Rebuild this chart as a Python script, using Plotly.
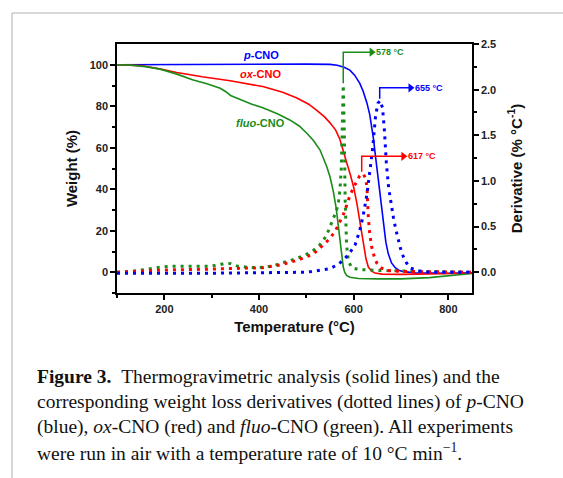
import plotly.graph_objects as go

# ---------------- data ----------------
# p-CNO (blue) weight (%)
T_p_tg = [100, 300, 500, 550, 565, 580, 592, 602, 613, 620, 628, 634, 638, 642, 645, 650, 656, 660, 663, 668, 673, 680, 687, 695, 705, 730, 800, 850]
W_p = [100, 100.3, 100.3, 100.2, 99.8, 98.8, 97.4, 95, 91, 87.2, 81.6, 76, 70.5, 64, 58, 49, 38, 30, 23, 14.5, 9, 4.5, 2.4, 1, 0.3, -0.3, -0.5, -0.3]

# ox-CNO (red) weight (%)
T_ox_tg = [100, 130, 150, 190, 226, 280, 339, 408, 450, 480, 505, 522, 538, 550, 562, 571, 578, 585, 593, 600, 607, 613, 618, 621, 626, 631, 638, 645, 660, 700, 760, 850]
W_ox = [100, 99.9, 99.6, 98, 96.3, 94.2, 92.3, 89.5, 86.8, 84, 81, 78, 75, 72, 68.5, 64, 59, 53, 47, 41, 33, 25, 17, 12.5, 6.5, 2.5, 0.5, -0.4, -0.9, -1, -0.8, -0.5]

# fluo-CNO (green) weight (%)
T_fl_tg = [100, 130, 160, 191, 225, 261, 290, 318, 330, 340, 350, 365, 385, 408, 440, 465, 485, 501, 515, 529, 536, 543, 550, 557, 563, 568, 572, 575, 578, 581, 585, 592, 610, 650, 700, 760, 800, 850]
W_fl = [100, 99.8, 99.1, 97.9, 95.6, 92.7, 90.8, 88.7, 87, 85.2, 84.2, 82.8, 81, 79.3, 76.3, 73.4, 70.5, 67, 63.5, 58.9, 55, 51, 46, 39, 31, 22, 14, 7.5, 2.5, 0, -1.5, -2.4, -3, -3.2, -3.2, -2.6, -1.8, -0.6]

# derivatives (% / degC)
T_p_dtg = [100, 300, 500, 530, 550, 565, 578, 590, 603, 613, 620, 628, 634, 640, 646, 651, 656, 661, 665, 669, 674, 679, 684, 689, 694, 700, 705, 712, 719, 735, 760, 850]
D_p = [-0.01, -0.01, 0.0, 0.02, 0.04, 0.08, 0.13, 0.2, 0.3, 0.46, 0.62, 0.85, 1.1, 1.35, 1.7, 1.85, 1.88, 1.8, 1.55, 1.2, 0.92, 0.75, 0.6, 0.47, 0.35, 0.24, 0.17, 0.1, 0.05, 0.015, 0.0, 0.0]

T_ox_dtg = [100, 150, 200, 260, 339, 409, 444, 480, 515, 536, 550, 562, 571, 578, 585, 592, 600, 606, 612, 617, 621, 625, 628, 631, 634, 638, 643, 649, 657, 670, 700, 850]
D_ox = [0, 0.015, 0.025, 0.03, 0.04, 0.05, 0.08, 0.13, 0.2, 0.3, 0.37, 0.46, 0.55, 0.63, 0.73, 0.84, 0.93, 1.0, 1.05, 1.08, 1.07, 1.03, 0.94, 0.6, 0.42, 0.28, 0.18, 0.1, 0.05, 0.02, 0.01, 0.0]

T_fl_dtg = [100, 130, 160, 190, 212, 240, 261, 296, 315, 330, 340, 353, 375, 395, 409, 430, 444, 462, 480, 498, 515, 527, 536, 544, 550, 557, 564, 568, 571, 574, 576, 578, 580, 582, 585, 589, 596, 610, 650, 700, 850]
D_fl = [0, 0.01, 0.03, 0.055, 0.065, 0.065, 0.06, 0.066, 0.08, 0.1, 0.095, 0.07, 0.055, 0.05, 0.055, 0.07, 0.095, 0.12, 0.15, 0.19, 0.24, 0.29, 0.35, 0.42, 0.5, 0.58, 0.68, 0.78, 0.9, 1.15, 1.5, 2.05, 1.6, 0.8, 0.3, 0.12, 0.05, 0.03, 0.02, 0.015, 0.0]

# peak markers: peak temperature, arrow start (derivative), arrow top, arrow end temperature, label
peak_T = [578, 655, 617]
peak_base = [2.07, 1.9, 1.1]
peak_top = [2.41, 2.02, 1.27]
peak_end = [641, 723, 708]
peak_labels = ["578 °C", "655 °C", "617 °C"]

series_names = ["<i>p</i>-CNO", "<i>ox</i>-CNO", "<i>fluo</i>-CNO"]
series_label_y = [104.5, 95.5, 71.8]

BLUE = "#0000ff"
RED = "#ff0000"
GREEN = "#1a8c1a"
colors_peaks = [GREEN, BLUE, RED]
colors_series = [BLUE, RED, GREEN]

caption_lines = [
    "<b>Figure\u00a03.</b>\u00a0\u00a0Thermogravimetric analysis (solid lines) and the",
    "corresponding weight loss derivatives (dotted lines) of <i>p</i>-CNO",
    "(blue), <i>ox</i>-CNO (red) and <i>fluo</i>-CNO (green). All experiments",
    "were run in air with a temperature rate of 10 °C min<sup>\u22121</sup>.",
]

# ---------------- figure ----------------
W, H = 563, 478
ML, MR, MT, MB = 117, 91, 44, 185
PW, PH = W - ML - MR, H - MT - MB


def px2paper(px, py):
    return (px - ML) / PW, (H - MB - py) / PH


fig = go.Figure()

dot = "3px,5px"
for T, D, c in [(T_fl_dtg, D_fl, GREEN), (T_ox_dtg, D_ox, RED), (T_p_dtg, D_p, BLUE)]:
    fig.add_trace(go.Scatter(x=T, y=D, yaxis="y2", mode="lines",
                             line=dict(color=c, width=3, dash=dot), showlegend=False))

for T, Wt, c in [(T_p_tg, W_p, BLUE), (T_ox_tg, W_ox, RED), (T_fl_tg, W_fl, GREEN)]:
    fig.add_trace(go.Scatter(x=T, y=Wt, mode="lines",
                             line=dict(color=c, width=1.6), showlegend=False))

# peak arrows (L-shaped line with arrow head)
for pt, b, tp, e, lab, c in zip(peak_T, peak_base, peak_top, peak_end, peak_labels, colors_peaks):
    fig.add_trace(go.Scatter(x=[pt, pt, e - 4], y=[b, tp, tp], yaxis="y2", mode="lines",
                             line=dict(color=c, width=1.5), showlegend=False))
    fig.add_trace(go.Scatter(x=[e - 3], y=[tp], yaxis="y2", mode="markers",
                             marker=dict(symbol="triangle-right", size=8, color=c),
                             showlegend=False))
    fig.add_annotation(x=e + 3, y=tp, xref="x", yref="y2", text=lab, showarrow=False,
                       xanchor="left", yanchor="middle",
                       font=dict(family="Liberation Sans", size=9, color=c, weight="bold"))

for name, yv, c in zip(series_names, series_label_y, colors_series):
    fig.add_annotation(x=404, y=yv, xref="x", yref="y", text=name, showarrow=False,
                       xanchor="center", yanchor="middle",
                       font=dict(family="Liberation Sans", size=11, color=c, weight="bold"))

# caption
cap_y = [377, 402, 427, 452]
for line, py in zip(caption_lines, cap_y):
    xp, yp = px2paper(35, py)
    fig.add_annotation(x=xp, y=yp, xref="paper", yref="paper", text=line, showarrow=False,
                       xanchor="left", yanchor="middle",
                       font=dict(family="Liberation Serif", size=19.5, color="#111"))

# frame lines (left and top, grey)
x0, y0 = px2paper(12, 478)
x1, y1 = px2paper(12, 13)
x2, _ = px2paper(563, 13)
fig.add_shape(type="line", xref="paper", yref="paper", x0=x0, y0=y0, x1=x1, y1=y1,
              line=dict(color="#b0b0b0", width=1))
fig.add_shape(type="line", xref="paper", yref="paper", x0=x1, y0=y1, x1=x2, y1=y1,
              line=dict(color="#b0b0b0", width=1))

tickfont = dict(family="Liberation Sans", size=11, color="#222", weight="bold")
titlefont = dict(family="Liberation Sans", size=15, color="#111", weight="bold")

fig.update_layout(
    width=W, height=H,
    margin=dict(l=ML, r=MR, t=MT, b=MB),
    paper_bgcolor="white", plot_bgcolor="white",
    xaxis=dict(range=[100, 850], tickvals=[200, 400, 600, 800], showgrid=False, zeroline=False,
               showline=True, linecolor="black", linewidth=1.5, mirror=True,
               ticks="outside", ticklen=5, tickwidth=1.5, tickcolor="black",
               minor=dict(tickvals=[100, 300, 500, 700], ticks="outside", ticklen=3, tickwidth=1.5, tickcolor="black"),
               tickfont=tickfont,
               title=dict(text="Temperature (°C)", font=titlefont, standoff=8)),
    yaxis=dict(range=[-10, 110], tickvals=[0, 20, 40, 60, 80, 100], showgrid=False, zeroline=False,
               showline=True, linecolor="black", linewidth=1.5,
               ticks="outside", ticklen=5, tickwidth=1.5, tickcolor="black",
               minor=dict(tickvals=[-10, 10, 30, 50, 70, 90], ticks="outside", ticklen=3, tickwidth=1.5, tickcolor="black"),
               tickfont=tickfont,
               title=dict(text="Weight (%)", font=titlefont, standoff=8)),
    yaxis2=dict(range=[-0.227, 2.5], overlaying="y", side="right",
                tickvals=[0, 0.5, 1.0, 1.5, 2.0, 2.5], ticktext=["0.0", "0.5", "1.0", "1.5", "2.0", "2.5"],
                showgrid=False, zeroline=False,
                showline=True, linecolor="black", linewidth=1.5,
                ticks="outside", ticklen=5, tickwidth=1.5, tickcolor="black",
                minor=dict(tickvals=[0.25, 0.75, 1.25, 1.75, 2.25], ticks="outside", ticklen=3, tickwidth=1.5, tickcolor="black"),
                tickfont=tickfont,
                title=dict(text="Derivative (% °C<sup>-1</sup>)", font=titlefont, standoff=16)),
)

fig.write_html("out.html", config={"displayModeBar": False},
               post_script="document.body.style.margin='0';document.body.style.overflow='hidden';")
